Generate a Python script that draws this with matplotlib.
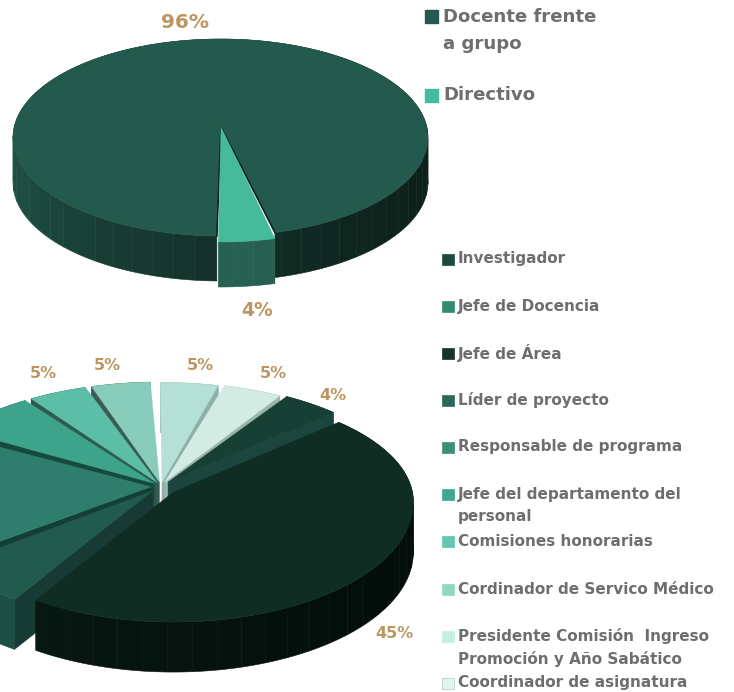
import numpy as np
import matplotlib.pyplot as plt
from matplotlib.colors import to_rgb
from matplotlib.patches import Rectangle

plt.rcParams['font.family'] = ['DejaVu Sans']

# Datos del primer pastel (porcentaje medido en el dibujo)
cat_sup = ['Docente frente\na grupo', 'Directivo']
val_sup = [95.5, 4.5]
etq_sup = ['96%', '4%']
col_sup = ['#235a4d', '#45bb9c']

# Datos del segundo pastel (porcentaje medido en el dibujo, en orden horario)
cat_inf = ['Jefe de Área', 'Líder de proyecto', 'Responsable de programa',
           'Jefe del departamento del personal', 'Comisiones honorarias',
           'Cordinador de Servico Médico', 'Presidente Comisión Ingreso Promoción y Año Sabático',
           'Coordinador de asignatura', 'Investigador']
val_inf = [47.5, 6.4, 18.6, 6.4, 4.2, 4.2, 4.1, 4.2, 4.1]
etq_inf = ['45%', '', '', '5%', '5%', '5%', '5%', '5%', '4%']
col_inf = ['#0f2d23', '#225a4d', '#2f7e6d', '#3da38a', '#5dbea8', '#88cdbc', '#b4e0d6', '#d2ece4', '#183f33']
pared_inf = ['#0f2d23', '#173a34', '#133f37', '#174a3e', '#2f5a50', '#3b5c54', '#8fb0a8', '#9ab5ad', '#1c4540']
sep_inf = [16, 12, 10, 10, 10, 10, 9, 10, 12]

# Leyendas
ley_inf = ['Investigador', 'Jefe de Docencia', 'Jefe de Área', 'Líder de proyecto', 'Responsable de programa',
           'Jefe del departamento del\npersonal', 'Comisiones honorarias', 'Cordinador de Servico Médico',
           'Presidente Comisión  Ingreso\nPromoción y Año Sabático', 'Coordinador de asignatura']
ley_col = ['#1c4a3e', '#358a72', '#15342a', '#2b6a5a', '#378f78', '#3fa88f', '#62c9b0', '#8fd8c4', '#c5eee2', '#e0f6f0']

GRIS = '#6e6e6e'
ORO = '#bc9660'


def mezcla(c1, c2, f):
    return tuple((1 - f) * np.array(to_rgb(c1)) + f * np.array(to_rgb(c2)))


def borde(cx, cy, a, b_lejos, b_cerca, t):
    t = np.radians(t)
    c = np.cos(t)
    return cx + a * np.sin(t), cy - np.where(c > 0, b_lejos, b_cerca) * c


def rebanada(ax, apice, cx, cy, a, bl, bc, t0, t1, col, prof, lado_izq, lado_der, pared=None, pared_t=None):
    # lado exterior por facetas
    cortes = np.r_[np.arange(t0, t1, 6.0), t1]
    for u, v in zip(cortes[:-1], cortes[1:]):
        xs, ys = borde(cx, cy, a, bl, bc, np.linspace(u, v, 6))
        f = ((np.sin(np.radians((u + v) / 2)) + 1) / 2) ** 0.6
        c = mezcla(lado_izq, lado_der, f)
        ax.fill(np.r_[xs, xs[::-1]], np.r_[ys, ys[::-1] + prof], color=c, lw=0.4, zorder=ax.orden)
    ax.orden += 1
    # pared del corte
    if pared is not None:
        xp, yp = borde(cx, cy, a, bl, bc, pared_t)
        ax.fill([apice[0], xp, xp, apice[0]], [apice[1], yp, yp + prof, apice[1] + prof],
                color=pared, lw=0.3, zorder=ax.orden)
        ax.orden += 1
    # cara superior
    xs, ys = borde(cx, cy, a, bl, bc, np.linspace(t0, t1, 200))
    ax.fill(np.r_[apice[0], xs], np.r_[apice[1], ys], color=col, lw=0.3, zorder=ax.orden)
    ax.orden += 1


fig = plt.figure(figsize=(7.34, 6.92), dpi=100)
ax = fig.add_axes([0, 0, 1, 1])
ax.set_xlim(0, 734)
ax.set_ylim(692, 0)
ax.axis('off')
ax.orden = 2

# Pastel de arriba
ini = 181
fin_doc = ini + val_sup[0] * 3.6
rebanada(ax, (221, 127), 220.5, 137.5, 207.5, 98.5, 98.5, ini, fin_doc, col_sup[0], 45, '#205246', '#0d201a')
xa, ya = borde(220.5, 137.5, 207.5, 98.5, 98.5, np.array([fin_doc, ini]))
ax.plot([xa[0], 221, xa[1]], [ya[0], 127, ya[1]], color='#10241f', lw=1.2, zorder=ax.orden)
ax.orden += 1
rebanada(ax, (221, 127), 220.5, 143.5, 207.5, 98.5, 98.5, fin_doc - 360, ini - 0.4, col_sup[1], 45, '#2c705e', '#235a4c')
ax.text(185, 23, etq_sup[0], color=ORO, fontsize=14.5, fontweight='bold', ha='center', va='center')
ax.text(257, 310, etq_sup[1], color=ORO, fontsize=13.5, fontweight='bold', ha='center', va='center')

# Pastel de abajo: del fondo hacia el frente, Jefe de Área al final
inicio = 43.5
angulos = inicio + np.r_[0, np.cumsum(val_inf)] * 360 / sum(val_inf)
t_ini = angulos[:-1]
t_fin = angulos[1:]
medio = (t_ini + t_fin) / 2
orden = [i for i in np.argsort(np.cos(np.radians(medio)))[::-1] if i != 0] + [0]
lados = {0: ('#0b1f19', '#030d09'), 1: ('#1f5a4c', '#173a34')}
for i in orden:
    r = np.radians(medio[i])
    ap = (161 + sep_inf[i] * np.sin(r), 487 - sep_inf[i] * 0.5 * np.cos(r))
    izq, der = lados.get(i, (pared_inf[i], pared_inf[i]))
    # la pared visible es la del borde mas cercano al frente
    t_p = t_fin[i] if np.sin(r) > 0 else t_ini[i]
    pared = pared_inf[i] if i != 0 else None
    # hueco entre rebanadas para dejar ver la pared de la vecina
    t0, t1 = t_ini[i], t_fin[i]
    if i > 0:
        if np.sin(r) > 0:
            t0 += 0.9
        else:
            t1 -= 0.9
    rebanada(ax, ap, ap[0], ap[1] + 10, 240, 110, 120, t0, t1, col_inf[i], 50, izq, der, pared, t_p)

pos_etq = {0: (394, 633), 3: (43, 374), 4: (107, 366), 5: (200, 365), 6: (273, 373), 8: (333, 395)}
for i, (x, y) in pos_etq.items():
    ax.text(x, y, etq_inf[i], color=ORO, fontsize=11.5, fontweight='bold', ha='center', va='center', zorder=500)

# Leyenda de arriba
ax.add_patch(Rectangle((425, 10), 13, 13, color=col_sup[0]))
ax.add_patch(Rectangle((425, 89), 13, 13, color=col_sup[1]))
ax.text(443, 17, 'Docente frente', color=GRIS, fontsize=13.1, fontweight='bold', va='center')
ax.text(443, 44, 'a grupo', color=GRIS, fontsize=13.1, fontweight='bold', va='center')
ax.text(443, 95, cat_sup[1], color=GRIS, fontsize=13.1, fontweight='bold', va='center')

# Leyenda de abajo
ley_y = [259, 306, 353, 400, 447, 494, 541, 589, 636, 683]
for nombre, c, y in zip(ley_inf, ley_col, ley_y):
    ax.add_patch(Rectangle((442, y - 5.5), 11.5, 11.5, facecolor=c, edgecolor='#b5c9c3' if c == '#e0f6f0' else c, lw=0.5))
    for k, linea in enumerate(nombre.split('\n')):
        ax.text(457.5, y + k * 23, linea, color=GRIS, fontsize=11, fontweight='bold', va='center')

fig.savefig('out.png', dpi=100)
